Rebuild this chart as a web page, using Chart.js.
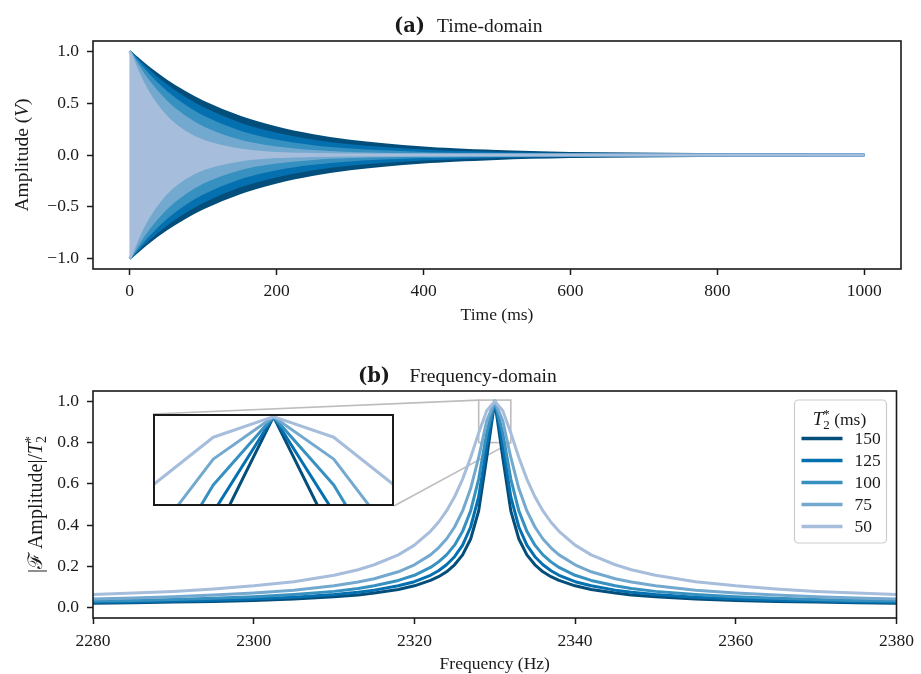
<!DOCTYPE html>
<html>
<head>
<meta charset="utf-8">
<script src="https://cdn.jsdelivr.net/npm/chart.js@4.4.1/dist/chart.umd.min.js"></script>
<style>
  html, body { margin: 0; background: #fff; }
  #wrap { position: relative; width: 921px; height: 674px; overflow: hidden; }
  canvas { position: absolute; left: 0; }
  #timeChart { top: 0; }
  #freqChart { top: 335px; }
</style>
</head>
<body>
<div id="wrap">
  <canvas id="timeChart" width="921" height="335"></canvas>
  <canvas id="freqChart" width="921" height="339"></canvas>
  <canvas id="zoomChart"></canvas>
</div>
<script>
// T2* in ms, longest first (legend order)
const t2Labels = ["150", "125", "100", "75", "50"];
const t2Colors = ["#034e7b", "#0570b0", "#3690c0", "#74a9cf", "#a6bddb"];

// (a) envelope of the decaying signal, sampled in time
const timeMs = [0, 10, 25, 50, 75, 100, 150, 200, 250, 300, 400, 500, 600, 800, 1000];
const env150 = [1, 0.936, 0.846, 0.717, 0.607, 0.513, 0.368, 0.264, 0.189, 0.135, 0.070, 0.036, 0.018, 0.005, 0.001];
const env125 = [1, 0.923, 0.819, 0.670, 0.549, 0.449, 0.301, 0.202, 0.135, 0.091, 0.041, 0.018, 0.008, 0.002, 0];
const env100 = [1, 0.905, 0.779, 0.607, 0.472, 0.368, 0.223, 0.135, 0.082, 0.050, 0.018, 0.007, 0.002, 0, 0];
const env75  = [1, 0.875, 0.717, 0.513, 0.368, 0.264, 0.135, 0.070, 0.036, 0.018, 0.005, 0.001, 0, 0, 0];
const env50  = [1, 0.819, 0.607, 0.368, 0.223, 0.135, 0.050, 0.018, 0.007, 0.002, 0, 0, 0, 0, 0];
const timeTicks = [0, 200, 400, 600, 800, 1000];
const ampTicks = [-1, -0.5, 0, 0.5, 1];

// (b) normalised spectrum magnitude around the line at 2330 Hz
const freqHz = [2280, 2285, 2290, 2295, 2300, 2305, 2310, 2313, 2315, 2318, 2320, 2322, 2323, 2324, 2325, 2326, 2327, 2328, 2329, 2330,
                2331, 2332, 2333, 2334, 2335, 2336, 2337, 2338, 2340, 2342, 2345, 2347, 2350, 2355, 2360, 2365, 2370, 2375, 2380];
const spec150 = [0.021, 0.024, 0.027, 0.030, 0.035, 0.042, 0.053, 0.062, 0.071, 0.088, 0.106, 0.132, 0.150, 0.174, 0.208, 0.256, 0.333, 0.469, 0.728, 1.000,
                 0.728, 0.469, 0.333, 0.256, 0.208, 0.174, 0.150, 0.132, 0.106, 0.088, 0.071, 0.062, 0.053, 0.042, 0.035, 0.030, 0.027, 0.024, 0.021];
const spec125 = [0.026, 0.028, 0.032, 0.036, 0.042, 0.051, 0.064, 0.075, 0.085, 0.106, 0.126, 0.157, 0.179, 0.208, 0.247, 0.303, 0.391, 0.537, 0.786, 1.000,
                 0.786, 0.537, 0.391, 0.303, 0.247, 0.208, 0.179, 0.157, 0.126, 0.106, 0.085, 0.075, 0.064, 0.051, 0.042, 0.036, 0.032, 0.028, 0.026];
const spec100 = [0.032, 0.035, 0.040, 0.046, 0.053, 0.064, 0.079, 0.093, 0.106, 0.132, 0.157, 0.195, 0.222, 0.256, 0.303, 0.370, 0.469, 0.623, 0.847, 1.000,
                 0.847, 0.623, 0.469, 0.370, 0.303, 0.256, 0.222, 0.195, 0.157, 0.132, 0.106, 0.093, 0.079, 0.064, 0.053, 0.046, 0.040, 0.035, 0.032];
const spec75  = [0.042, 0.047, 0.053, 0.061, 0.071, 0.085, 0.106, 0.124, 0.140, 0.174, 0.208, 0.256, 0.290, 0.333, 0.391, 0.469, 0.577, 0.728, 0.905, 1.000,
                 0.905, 0.728, 0.577, 0.469, 0.391, 0.333, 0.290, 0.256, 0.208, 0.174, 0.140, 0.124, 0.106, 0.085, 0.071, 0.061, 0.053, 0.047, 0.042];
const spec50  = [0.064, 0.071, 0.079, 0.091, 0.106, 0.126, 0.157, 0.184, 0.208, 0.256, 0.303, 0.370, 0.414, 0.469, 0.537, 0.623, 0.728, 0.847, 0.954, 1.000,
                 0.954, 0.847, 0.728, 0.623, 0.537, 0.469, 0.414, 0.370, 0.303, 0.256, 0.208, 0.184, 0.157, 0.126, 0.106, 0.091, 0.079, 0.071, 0.064];
const freqTicks = [2280, 2300, 2320, 2340, 2360, 2380];
const specTicks = [0, 0.2, 0.4, 0.6, 0.8, 1.0];

// zoomed window shown in the inset
const zoomX = [2328, 2332];
const zoomY = [0.8, 1.006];

const envSeries = [env150, env125, env100, env75, env50];
const specSeries = [spec150, spec125, spec100, spec75, spec50];

const serif = "'Liberation Serif', 'Times New Roman', serif";
const ink = "#1a1a1a";
const font = (size, style) => (style ? style + " " : "") + size + "px " + serif;
const decimal = v => (v < 0 ? "\u2212" : "") + Math.abs(v).toFixed(1);

// text made of several runs (italic, sub/superscripts)
function runsWidth(ctx, runs) {
  let w = 0;
  for (const r of runs) {
    ctx.font = r.font;
    if (!r.stay) w += ctx.measureText(r.text).width;
  }
  return w;
}
function drawRuns(ctx, runs, x, y) {
  let cx = x;
  for (const r of runs) {
    ctx.font = r.font;
    ctx.fillText(r.text, cx, y + (r.dy || 0));
    if (!r.stay) cx += ctx.measureText(r.text).width;
  }
}
function drawRunsCentered(ctx, runs, cx, y) {
  drawRuns(ctx, runs, cx - runsWidth(ctx, runs) / 2, y);
}
function drawRunsVertical(ctx, runs, x, cy) {
  ctx.save();
  ctx.translate(x, cy);
  ctx.rotate(-Math.PI / 2);
  drawRunsCentered(ctx, runs, 0, 0);
  ctx.restore();
}

const t2Runs = size => [
  { text: "T", font: font(size, "italic") },
  { text: "2", font: font(Math.round(size * 0.68)), dy: 4, stay: true },
  { text: "*", font: font(Math.round(size * 0.68)), dy: -7 },
];

function axis(min, max, tickValues, fmt, isX, size, pad) {
  return {
    type: "linear",
    min: min,
    max: max,
    grid: { display: true, drawOnChartArea: false, drawTicks: true, tickLength: 6, tickWidth: 1.5, tickColor: ink },
    border: { display: false },
    ticks: { color: ink, font: { family: serif, size: 17.5 }, padding: pad, autoSkip: false, maxRotation: 0, callback: v => fmt(v) },
    afterBuildTicks: s => { s.ticks = tickValues.map(v => ({ value: v })); },
    afterFit: s => { if (isX) s.height = size; else s.width = size; },
  };
}

function drawFrame(chart) {
  const { ctx, chartArea: ca } = chart;
  ctx.save();
  ctx.strokeStyle = ink;
  ctx.lineWidth = 1.6;
  ctx.strokeRect(ca.left, ca.top, ca.right - ca.left, ca.bottom - ca.top);
  ctx.restore();
}

function drawTitle(ctx, tag, tagX, text, textX, y) {
  ctx.save();
  ctx.fillStyle = ink;
  ctx.textBaseline = "alphabetic";
  ctx.font = "bold 19.5px 'DejaVu Serif', serif";
  ctx.fillText(tag, tagX, y);
  ctx.font = font(19.5);
  ctx.fillText(text, textX, y);
  ctx.restore();
}

const baseOptions = {
  responsive: false,
  animation: false,
  devicePixelRatio: 1,
  events: [],
  plugins: { legend: { display: false }, tooltip: { enabled: false } },
};

// ---------- (a) time domain ----------
const timeSets = [];
envSeries.forEach((env, i) => {
  const style = {
    borderColor: t2Colors[i],
    backgroundColor: t2Colors[i],
    borderWidth: 2.5,
    pointRadius: 0,
    cubicInterpolationMode: "monotone",
    order: envSeries.length - i,
  };
  timeSets.push({ ...style, data: timeMs.map((t, k) => ({ x: t, y: env[k] })), fill: "+1" });
  // lower edge mirrors the upper one
  timeSets.push({ ...style, data: timeMs.map((t, k) => ({ x: t, y: -env[k] })), fill: false });
});

const timeDecor = {
  id: "timeDecor",
  afterDraw(chart) {
    const { ctx, chartArea: ca } = chart;
    drawFrame(chart);
    drawTitle(ctx, "(a)", 394, "Time-domain", 437, ca.top - 9.5);
    ctx.save();
    ctx.fillStyle = ink;
    drawRunsCentered(ctx, [{ text: "Time (ms)", font: font(17.5) }], (ca.left + ca.right) / 2, ca.bottom + 51);
    drawRunsVertical(ctx, [
      { text: "Amplitude (", font: font(19.5) },
      { text: "V", font: font(19.5, "italic") },
      { text: ")", font: font(19.5) },
    ], 28, (ca.top + ca.bottom) / 2);
    ctx.restore();
  },
};

new Chart(document.getElementById("timeChart"), {
  type: "line",
  data: { datasets: timeSets },
  options: {
    ...baseOptions,
    layout: { padding: { top: 41, right: 20, left: 0, bottom: 0 } },
    scales: {
      x: axis(-50, 1050, timeTicks, v => String(v), true, 66, 6),
      y: axis(-1.1, 1.1, ampTicks, decimal, false, 93, 8),
    },
  },
  plugins: [timeDecor],
});

// ---------- (b) frequency domain ----------
const insetFrac = { left: 0.075, top: 0.1, width: 0.3, height: 0.405 };
function insetBox(ca) {
  const w = ca.right - ca.left, h = ca.bottom - ca.top;
  const left = Math.round(ca.left + insetFrac.left * w);
  const top = Math.round(ca.top + insetFrac.top * h);
  const width = Math.round(insetFrac.width * w);
  const height = Math.round(insetFrac.height * h);
  return { left, top, width, height, right: left + width, bottom: top + height };
}

const specSets = specSeries.map((spec, i) => ({
  label: t2Labels[i],
  data: freqHz.map((f, k) => ({ x: f, y: spec[k] })),
  borderColor: t2Colors[i],
  borderWidth: 3,
  borderJoinStyle: "round",
  pointRadius: 0,
  tension: 0,
  fill: false,
  order: specSeries.length - i,
}));

const freqDecor = {
  id: "freqDecor",
  beforeDatasetsDraw(chart) {
    // zoom window and the two connector lines to the inset
    const { ctx, chartArea: ca, scales } = chart;
    const box = insetBox(ca);
    const x0 = scales.x.getPixelForValue(zoomX[0]);
    const x1 = scales.x.getPixelForValue(zoomX[1]);
    const y0 = scales.y.getPixelForValue(zoomY[0]);
    const y1 = scales.y.getPixelForValue(zoomY[1]);
    ctx.save();
    ctx.strokeStyle = "#bdbdbd";
    ctx.lineWidth = 1.6;
    ctx.strokeRect(x0, y1, x1 - x0, y0 - y1);
    ctx.beginPath();
    ctx.moveTo(box.left, box.top);
    ctx.lineTo(x0, y1);
    ctx.moveTo(box.right, box.bottom);
    ctx.lineTo(x1, y0);
    ctx.stroke();
    ctx.restore();
  },
  afterDraw(chart) {
    const { ctx, chartArea: ca } = chart;
    drawFrame(chart);
    drawTitle(ctx, "(b)", 358, "Frequency-domain", 409.5, ca.top - 9.5);
    ctx.save();
    ctx.fillStyle = ink;
    drawRunsCentered(ctx, [{ text: "Frequency (Hz)", font: font(17.5) }], (ca.left + ca.right) / 2, ca.bottom + 51);
    drawRunsVertical(ctx, [
      { text: "|", font: font(20) },
      { text: "\u2131", font: font(20) },
      { text: "\u2009Amplitude", font: font(20) },
      { text: "|/", font: font(20) },
    ].concat(t2Runs(20)), 42, (ca.top + ca.bottom) / 2);

    // legend
    const lg = { right: ca.right - 10, top: ca.top + 9, width: 92, height: 143 };
    const lx = lg.right - lg.width;
    ctx.beginPath();
    ctx.roundRect(lx, lg.top, lg.width, lg.height, 4);
    ctx.fillStyle = "rgba(255,255,255,0.8)";
    ctx.fill();
    ctx.strokeStyle = "#cccccc";
    ctx.lineWidth = 1.2;
    ctx.stroke();
    ctx.fillStyle = ink;
    drawRunsCentered(ctx, t2Runs(19).concat([{ text: " (ms)", font: font(17.5) }]), lx + 45, lg.top + 25);
    t2Labels.forEach((lab, i) => {
      const y = lg.top + 38.5 + i * 22;
      ctx.strokeStyle = t2Colors[i];
      ctx.lineWidth = 3.5;
      ctx.beginPath();
      ctx.moveTo(lx + 7, y);
      ctx.lineTo(lx + 48, y);
      ctx.stroke();
      ctx.font = font(17.5);
      ctx.textBaseline = "middle";
      ctx.fillText(lab, lx + 60, y + 1);
      ctx.textBaseline = "alphabetic";
    });
    ctx.restore();
  },
};

const freqChart = new Chart(document.getElementById("freqChart"), {
  type: "line",
  data: { datasets: specSets },
  options: {
    ...baseOptions,
    layout: { padding: { top: 56, right: 21, left: 0, bottom: 0 } },
    scales: {
      x: axis(2280, 2380, freqTicks, v => String(v), true, 56, 7),
      y: axis(-0.05, 1.05, specTicks, decimal, false, 93, 8),
    },
  },
  plugins: [freqDecor],
});

// ---------- inset: zoom on the peak ----------
const box = insetBox(freqChart.chartArea);
const zoomCanvas = document.getElementById("zoomChart");
zoomCanvas.width = box.width;
zoomCanvas.height = box.height;
zoomCanvas.style.left = box.left + "px";
zoomCanvas.style.top = 335 + box.top + "px";

new Chart(zoomCanvas, {
  type: "line",
  data: { datasets: specSets.map(d => ({ ...d, data: d.data.slice() })) },
  options: {
    ...baseOptions,
    layout: { padding: 0 },
    scales: {
      x: { type: "linear", min: zoomX[0], max: zoomX[1], display: false },
      y: { type: "linear", min: zoomY[0], max: zoomY[1], display: false },
    },
  },
  plugins: [{
    id: "insetFrame",
    beforeDraw(chart) {
      chart.ctx.fillStyle = "#fff";
      chart.ctx.fillRect(0, 0, chart.width, chart.height);
    },
    afterDraw(chart) {
      const ctx = chart.ctx;
      ctx.save();
      ctx.strokeStyle = ink;
      ctx.lineWidth = 2;
      ctx.strokeRect(1, 1, chart.width - 2, chart.height - 2);
      ctx.restore();
    },
  }],
});
</script>
</body>
</html>
